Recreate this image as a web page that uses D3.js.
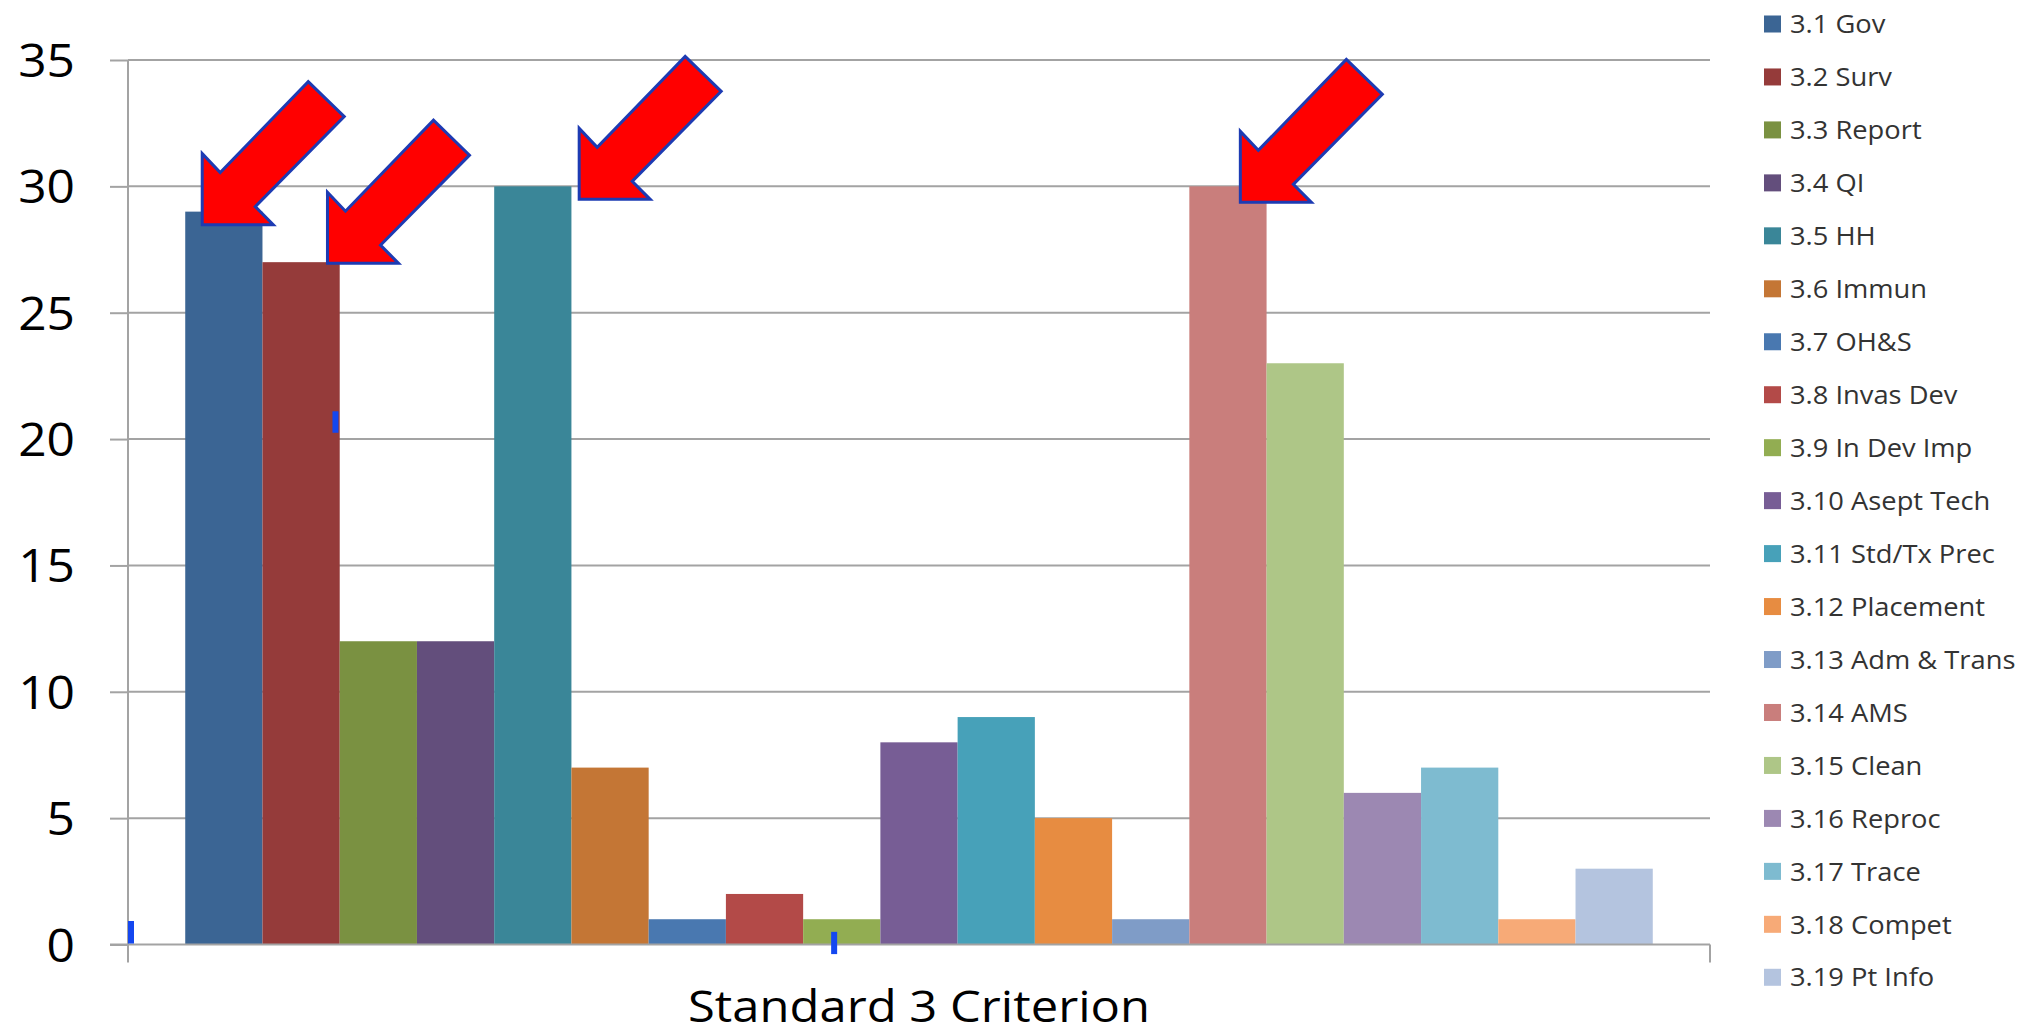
<!DOCTYPE html>
<html>
<head>
<meta charset="utf-8">
<script src="https://cdn.jsdelivr.net/npm/d3@7"></script>
<style>
  html, body { margin: 0; padding: 0; background: #ffffff; }
  svg { display: block; }
  text { font-family: "Open Sans", "Noto Sans", sans-serif; }
</style>
</head>
<body>
<svg id="chart" width="2028" height="1036"></svg>
<script>
// Criteria of Standard 3 and the count recorded for each
const categories = ["Standard 3 Criterion"];
const series = [
  "3.1 Gov", "3.2 Surv", "3.3 Report", "3.4 QI", "3.5 HH", "3.6 Immun",
  "3.7 OH&S", "3.8 Invas Dev", "3.9 In Dev Imp", "3.10 Asept Tech",
  "3.11 Std/Tx Prec", "3.12 Placement", "3.13 Adm & Trans", "3.14 AMS",
  "3.15 Clean", "3.16 Reproc", "3.17 Trace", "3.18 Compet", "3.19 Pt Info"
];
const values = [29, 27, 12, 12, 30, 7, 1, 2, 1, 8, 9, 5, 1, 30, 23, 6, 7, 1, 3];
const yTicks = [0, 5, 10, 15, 20, 25, 30, 35];
const colors = [
  "#3b6594", "#953b3a", "#7a9141", "#634e7c", "#3a8698", "#c47635",
  "#4978b0", "#b34a48", "#92ad52", "#775d95", "#47a1b9", "#e78c41",
  "#7f9cc7", "#c97e7c", "#aec687", "#9c88b2", "#7ebbd0", "#f7aa77", "#b4c4df"
];
// Criteria flagged with callout arrows
const highlighted = ["3.1 Gov", "3.2 Surv", "3.5 HH", "3.14 AMS"];

const svg = d3.select("#chart");

// Plot frame
const plot = { left: 128, right: 1710, top: 60, bottom: 944.5 };

const y = d3.scaleLinear().domain([0, 35]).range([plot.bottom, plot.top]);
const x0 = d3.scaleBand().domain(categories)
  .range([plot.left, plot.right]).paddingInner(0).paddingOuter(0.039);
const x1 = d3.scaleBand().domain(series).range([0, x0.bandwidth()]).padding(0);
const color = d3.scaleOrdinal().domain(series).range(colors);

// Stretch text horizontally to the wider face used in the chart
function widen(sel, f) {
  sel.each(function () {
    const w = this.getComputedTextLength();
    d3.select(this).attr("textLength", w * f).attr("lengthAdjust", "spacingAndGlyphs");
  });
}

// Horizontal gridlines
svg.append("g").selectAll("line").data(yTicks.filter(v => v > 0)).join("line")
  .attr("x1", plot.left).attr("x2", plot.right)
  .attr("y1", d => y(d)).attr("y2", d => y(d))
  .attr("stroke", "#a3a3a3").attr("stroke-width", 2);

// Value axis
const yAxis = svg.append("g")
  .attr("transform", `translate(${plot.left},0)`)
  .call(d3.axisLeft(y).tickValues(yTicks).tickSize(18).tickSizeOuter(0).tickPadding(35));
yAxis.select(".domain").remove();
yAxis.selectAll(".tick line").attr("stroke", "#a3a3a3").attr("stroke-width", 2);
yAxis.selectAll(".tick text")
  .attr("font-size", 46).attr("fill", "#000").attr("dy", "0.36em")
  .call(widen, 1.08);

// Bars
const g = svg.append("g").attr("transform", `translate(${x0(categories[0])},0)`);
g.selectAll("rect").data(series.map((s, i) => ({ s, v: values[i] }))).join("rect")
  .attr("x", d => x1(d.s))
  .attr("y", d => y(d.v))
  .attr("width", x1.bandwidth())
  .attr("height", d => y(0) - y(d.v))
  .attr("fill", d => color(d.s));

// Axis lines and category boundary ticks
const axisG = svg.append("g").attr("stroke", "#a3a3a3").attr("stroke-width", 2);
axisG.append("line").attr("x1", plot.left).attr("x2", plot.left)
  .attr("y1", plot.top).attr("y2", y(0) + 18);
axisG.append("line").attr("x1", plot.left - 18).attr("x2", plot.right)
  .attr("y1", y(0)).attr("y2", y(0));
axisG.append("line").attr("x1", plot.right).attr("x2", plot.right)
  .attr("y1", y(0)).attr("y2", y(0) + 18);

// Category title under the axis
svg.append("text")
  .attr("x", x0(categories[0]) + x0.bandwidth() / 2)
  .attr("y", 1022)
  .attr("text-anchor", "middle")
  .attr("font-size", 44.5)
  .attr("fill", "#000")
  .text(categories[0])
  .call(widen, 1.1);

// Small blue cursor marks
const cursorMarks = [
  { x: () => plot.left, top: y(0.93), bottom: y(0) - 1 },
  { x: () => x0(categories[0]) + x1("3.9 In Dev Imp") + 28, top: y(0.5), bottom: y(-0.38) },
  { x: () => x0(categories[0]) + x1("3.2 Surv") + 70, top: y(21.1), bottom: y(20.25) }
];
svg.append("g").selectAll("rect").data(cursorMarks).join("rect")
  .attr("x", d => d.x()).attr("y", d => d.top)
  .attr("width", 6).attr("height", d => d.bottom - d.top)
  .attr("fill", "#1447f0");

// Callout arrows: tip placed near the top of each highlighted bar
const arrowShape = [[0, 0], [0, -71], [18, -52], [106, -143], [142, -108], [53, -18], [71, 0]];
const tipOffsets = { "3.1 Gov": [17, 13], "3.2 Surv": [65, 1], "3.5 HH": [85, 13], "3.14 AMS": [51, 16] };
svg.append("g").selectAll("polygon").data(highlighted).join("polygon")
  .attr("points", s => {
    const i = series.indexOf(s);
    const tx = x0(categories[0]) + x1(s) + tipOffsets[s][0];
    const ty = y(values[i]) + tipOffsets[s][1];
    return arrowShape.map(p => [tx + p[0], ty + p[1]].join(",")).join(" ");
  })
  .attr("fill", "#ff0000")
  .attr("stroke", "#1d3bb3")
  .attr("stroke-width", 3)
  .attr("stroke-linejoin", "miter");

// Legend
const legend = svg.append("g").attr("transform", "translate(1764,24)");
const items = legend.selectAll("g").data(series).join("g")
  .attr("transform", (d, i) => `translate(0,${i * 52.96})`);
items.append("rect")
  .attr("x", 0).attr("y", -8.5).attr("width", 17).attr("height", 17)
  .attr("fill", d => color(d));
items.append("text")
  .attr("x", 26).attr("y", 0).attr("dy", "0.36em")
  .attr("font-size", 25.5).attr("fill", "#333")
  .text(d => d)
  .call(widen, 1.07);
</script>
</body>
</html>
